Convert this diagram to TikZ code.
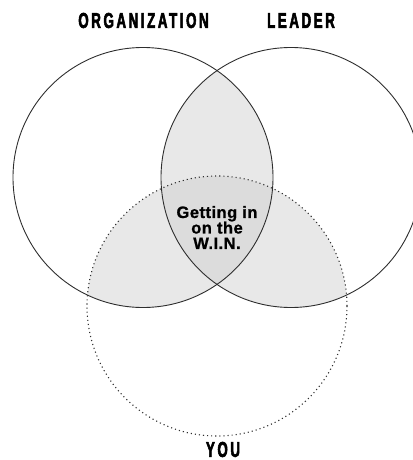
\documentclass[tikz,border=0pt]{standalone}
\usepackage{fontspec}
\usetikzlibrary{positioning}
\newfontfamily\winfont[LetterSpace=3,FakeBold=1]{Liberation Sans Bold}
\newfontfamily\vennfont[FakeStretch=0.62,LetterSpace=12,FakeBold=2.5]{Liberation Sans Bold}
\definecolor{lensgray}{HTML}{E8E8E8}
\definecolor{coregray}{HTML}{DCDCDC}
\definecolor{rimgray}{HTML}{2E2E2E}

\tikzset{
  rim/.style={rimgray, line width=0.9pt},
  dotrim/.style={rimgray, line width=1.1pt, dash pattern=on 1.1pt off 3pt},
  setlabel/.style={font=\vennfont\fontsize{21.5}{21.5}\selectfont, inner sep=0pt},
}

\begin{document}
\begin{tikzpicture}[x=1pt,y=-1pt]
\useasboundingbox (0,0) rectangle (412,460);
\coordinate (org) at (143,177.5);
\coordinate (ldr) at (291,177.5);
\coordinate (you) at (217,306);
% pairwise overlaps
\begin{scope}
\clip (org) circle (130pt);
\fill[lensgray] (ldr) circle (130pt);
\fill[lensgray] (you) circle (130pt);
\end{scope}
\begin{scope}
\clip (ldr) circle (130pt);
\fill[lensgray] (you) circle (130pt);
\end{scope}
% all three
\begin{scope}
\clip (org) circle (130pt);
\clip (ldr) circle (130pt);
\fill[coregray] (you) circle (130pt);
\end{scope}
\draw[rim] (org) circle (130pt);
\draw[rim] (ldr) circle (130pt);
\draw[dotrim] (you) circle (130pt);
\node[setlabel] (orglabel) at (143.5,20.5) {ORGANIZATION};
\node[setlabel] (ldrlabel) at (301,20.5) {LEADER};
\node[setlabel] (youlabel) at (223,449.5) {YOU};
\node[align=center, inner sep=0pt, font=\winfont\fontsize{16.5}{15.5}\selectfont] (win) at (217,227.5) {Getting in\\on the\\W.I.N.};
\end{tikzpicture}
\end{document}
